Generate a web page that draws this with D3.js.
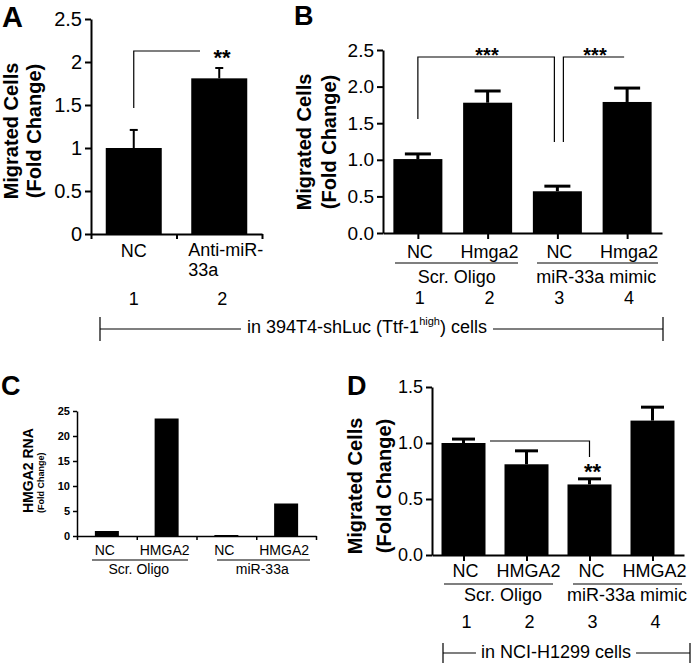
<!DOCTYPE html>
<html><head><meta charset="utf-8">
<script src="https://cdn.jsdelivr.net/npm/d3@7"></script>
<style>
body{margin:0;background:#fff}
svg{display:block}
text{font-family:"Liberation Sans",Arial,Helvetica,sans-serif;fill:#000}
</style>
</head><body>
<svg id="c" width="693" height="665"></svg>
<script>
// ---------- data ----------
const catsA = ["NC", "Anti-miR-|33a"];
const valsA = [1.0, 1.81];
const errA = [0.21, 0.12];
const ticksA = [0, 0.5, 1, 1.5, 2, 2.5];
const numsA = ["1", "2"];

const catsB = ["NC", "Hmga2", "NC", "Hmga2"];
const groupsB = ["Scr. Oligo", "miR-33a mimic"];
const valsB = [1.01, 1.78, 0.57, 1.79];
const errB = [0.07, 0.16, 0.07, 0.19];
const ticksB = [0, 0.5, 1, 1.5, 2, 2.5];
const numsB = ["1", "2", "3", "4"];

const catsC = ["NC", "HMGA2", "NC", "HMGA2"];
const groupsC = ["Scr. Oligo", "miR-33a"];
const valsC = [1.0, 23.5, 0.2, 6.5];
const ticksC = [0, 5, 10, 15, 20, 25];

const catsD = ["NC", "HMGA2", "NC", "HMGA2"];
const groupsD = ["Scr. Oligo", "miR-33a mimic"];
const valsD = [1.0, 0.81, 0.63, 1.2];
const errD = [0.035, 0.12, 0.05, 0.12];
const ticksD = [0, 0.5, 1, 1.5];
const numsD = ["1", "2", "3", "4"];

const svg = d3.select("#c");

// ---------- helpers ----------
function yAxis(g, y, ticks, fmt, x0, fs, sw, ts) {
  const a = g.append("g").attr("transform", `translate(${x0},0)`)
    .call(d3.axisLeft(y).tickValues(ticks).tickFormat(fmt).tickSize(ts).tickSizeOuter(0).tickPadding(3));
  a.select(".domain").attr("stroke", "#000").attr("stroke-width", sw);
  a.selectAll(".tick line").attr("stroke", "#000").attr("stroke-width", sw);
  a.selectAll(".tick text").attr("font-size", fs).attr("fill", "#000")
    .style("font-family", '"Liberation Sans",Arial,sans-serif');
  return a;
}
function xAxis(g, scale, y0, ts, sw, ticks) {
  let ax = d3.axisBottom(scale).tickFormat("").tickSize(ts).tickSizeOuter(0);
  if (ticks) ax = ax.tickValues(ticks);
  const a = g.append("g").attr("transform", `translate(0,${y0})`).call(ax);
  a.select(".domain").attr("stroke", "#000").attr("stroke-width", sw);
  a.selectAll(".tick line").attr("stroke", "#000").attr("stroke-width", sw);
  return a;
}
function bars(g, x, y, vals, bw) {
  g.append("g").selectAll("rect").data(vals).join("rect")
    .attr("x", (d, i) => x(i) - bw / 2).attr("width", bw)
    .attr("y", d => y(d)).attr("height", d => y(0) - y(d))
    .attr("fill", "#000");
}
function errs(g, x, y, vals, es, cw, sw) {
  const e = g.append("g").attr("stroke", "#000").attr("stroke-width", sw);
  vals.forEach((v, i) => {
    e.append("line").attr("x1", x(i)).attr("x2", x(i)).attr("y1", y(v)).attr("y2", y(v + es[i]));
    e.append("line").attr("x1", x(i) - cw / 2).attr("x2", x(i) + cw / 2).attr("y1", y(v + es[i])).attr("y2", y(v + es[i]));
  });
}
function label(x, y, t, fs, anchor, weight) {
  return svg.append("text").attr("x", x).attr("y", y).attr("font-size", fs)
    .attr("text-anchor", anchor || "middle").attr("font-weight", weight || "normal").text(t);
}
function vlabel(x, y, t, fs, anchor, weight) {
  return svg.append("text").attr("transform", `translate(${x},${y}) rotate(-90)`)
    .attr("font-size", fs).attr("text-anchor", anchor || "middle")
    .attr("font-weight", weight || "normal").text(t);
}
function path(d, sw) {
  svg.append("path").attr("d", d).attr("fill", "none").attr("stroke", "#000").attr("stroke-width", sw || 1.2);
}
function groupLine(x1, x2, y, sw) { path(`M${x1},${y}H${x2}`, sw || 1.2); }
function spanBracket(x1, x2, yLine, tickH, textNode, gap) {
  const bb = textNode.node().getBBox();
  path(`M${x1},${yLine - tickH}V${yLine + tickH}M${x1},${yLine}H${bb.x - gap}M${bb.x + bb.width + gap},${yLine}H${x2}M${x2},${yLine - tickH}V${yLine + tickH}`, 1.2);
}

// ---------- Panel A ----------
const gA = svg.append("g");
const yA = d3.scaleLinear().domain([0, 2.5]).range([234, 19]);
const xA = d3.scalePoint().domain(d3.range(catsA.length)).range([91, 262]).padding(0.5);
bars(gA, xA, yA, valsA, 56);
errs(gA, xA, yA, valsA, errA, 8, 2);
yAxis(gA, yA, ticksA, d3.format(""), 91, 20, 2, 6);
xAxis(gA, d3.scaleLinear().domain([0, 2]).range([91, 262]), 234, 5, 2, [0, 1, 2]);
label(xA(0), 257, catsA[0], 18);
catsA[1].split("|").forEach((t, k) => label(xA(1) - 31, 256 + k * 20, t, 18, "start"));
numsA.forEach((t, i) => label(xA(i) + (i ? 3 : 0), 305, t, 18));
path(`M${xA(0)},108V51H200`);
label(222, 65, "**", 22, "middle", "bold");
vlabel(18, 131, "Migrated Cells", 20, "middle", "bold");
vlabel(41, 131, "(Fold Change)", 20, "middle", "bold");
label(2, 27, "A", 29, "start", "bold");

// ---------- Panel B ----------
const gB = svg.append("g");
const yB = d3.scaleLinear().domain([0, 2.5]).range([233, 50]);
const xB = d3.scalePoint().domain(d3.range(catsB.length)).range([383, 662]).padding(0.5);
bars(gB, xB, yB, valsB, 49);
errs(gB, xB, yB, valsB, errB, 26, 3);
yAxis(gB, yB, ticksB, d3.format(".1f"), 383, 19, 2, 6);
xAxis(gB, xB, 233, 6, 2);
catsB.forEach((t, i) => label(xB(i) + 2, 258, t, 18));
groupLine(395, 518, 263);
groupLine(537, 658, 263);
label((xB(0) + xB(1)) / 2 + 4, 283, groupsB[0], 18);
label((xB(2) + xB(3)) / 2 + 4, 283, groupsB[1], 18);
numsB.forEach((t, i) => label(xB(i) + 2, 304, t, 18));
path(`M${xB(0)},119V57H${xB(2) - 3}V142`);
path(`M${xB(2) + 6},142V57H${xB(3) - 3}`);
label(487, 62, "***", 20, "middle", "bold");
label(595, 62, "***", 20, "middle", "bold");
vlabel(311, 142, "Migrated Cells", 20, "middle", "bold");
vlabel(336, 142, "(Fold Change)", 20, "middle", "bold");
label(294, 25, "B", 27, "start", "bold");

// bottom span for A+B
const spanT = svg.append("text").attr("x", 367).attr("y", 333).attr("font-size", 18).attr("text-anchor", "middle");
spanT.append("tspan").text("in 394T4-shLuc (Ttf-1");
spanT.append("tspan").attr("font-size", 11).attr("dy", -8).text("high");
spanT.append("tspan").attr("dy", 8).text(") cells");
spanBracket(100, 663, 329, 12, spanT, 6);

// ---------- Panel C ----------
const gC = svg.append("g");
const yC = d3.scaleLinear().domain([0, 25]).range([536, 411]);
const xC = d3.scalePoint().domain(d3.range(catsC.length)).range([77, 316]).padding(0.5);
bars(gC, xC, yC, valsC, 24);
yAxis(gC, yC, ticksC, d3.format(""), 77, 11, 1.5, 4).selectAll(".tick text").attr("font-weight", "bold");
xAxis(gC, d3.scaleLinear().domain([0, 4]).range([77, 316]), 536, 4, 1.5, [0, 1, 2, 3, 4]);
catsC.forEach((t, i) => label(xC(i) - 2, 555, t, 14));
groupLine(92, 188, 560);
groupLine(217, 310, 560);
label((xC(0) + xC(1)) / 2 + 2, 574, groupsC[0], 14);
label((xC(2) + xC(3)) / 2 + 6, 574, groupsC[1], 14);
vlabel(33, 513, "HMGA2 RNA", 14, "start", "bold");
vlabel(44, 513, "(Fold Change)", 9, "start", "bold");
label(1, 395, "C", 27, "start", "bold");

// ---------- Panel D ----------
const gD = svg.append("g");
const yD = d3.scaleLinear().domain([0, 1.5]).range([555, 387]);
const xD = d3.scalePoint().domain(d3.range(catsD.length)).range([432, 684]).padding(0.5);
bars(gD, xD, yD, valsD, 44);
errs(gD, xD, yD, valsD, errD, 23, 3);
yAxis(gD, yD, ticksD, d3.format(".1f"), 432, 18, 2, 6);
xAxis(gD, xD, 555, 6, 2);
catsD.forEach((t, i) => label(xD(i) + 2, 577, t, 18));
groupLine(444, 553, 584);
groupLine(573, 682, 584);
label((xD(0) + xD(1)) / 2 + 8, 601, groupsD[0], 18);
label((xD(2) + xD(3)) / 2 + 6, 601, groupsD[1], 18);
numsD.forEach((t, i) => label(xD(i) + 3, 628, t, 18));
path(`M490,441H${xD(2) + 0}V457`);
label(xD(2) + 3, 479, "**", 22, "middle", "bold");
vlabel(362, 486, "Migrated Cells", 20, "middle", "bold");
vlabel(391, 486, "(Fold Change)", 20, "middle", "bold");
label(347, 395, "D", 27, "start", "bold");

const spanD = label(556, 658, "in NCI-H1299 cells", 18);
spanBracket(443, 690, 653, 10, spanD, 5);
</script>
</body></html>
